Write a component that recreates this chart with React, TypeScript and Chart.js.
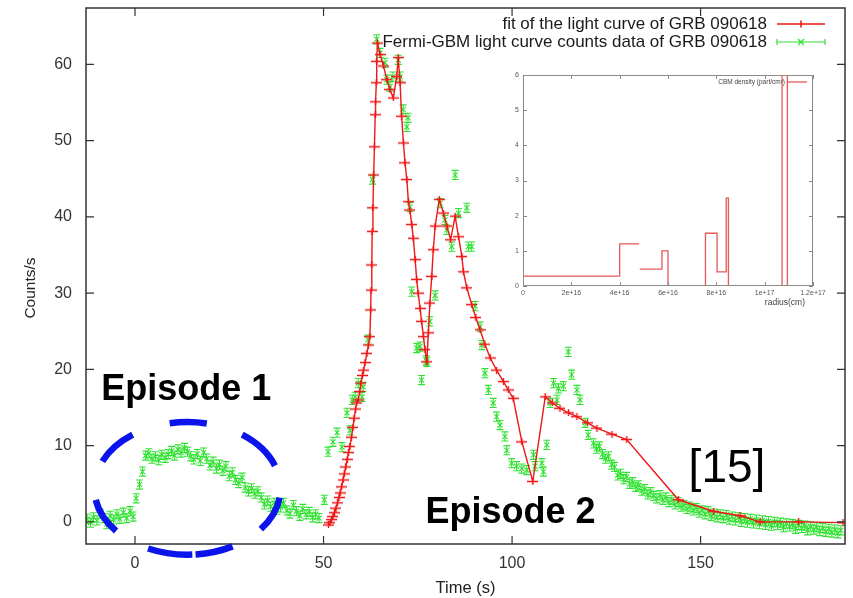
import { useEffect, useRef } from 'react';
import { Chart, registerables } from 'chart.js';

Chart.register(...registerables);

const FONT = '"Liberation Sans", Arial, Helvetica, sans-serif';
const RED = 'rgb(238, 22, 22)';
const GREEN = 'rgb(48, 226, 48)';
const BLUE = 'rgb(10, 20, 235)';

// Fermi-GBM light curve of GRB 090618 (time in s, counts/s)
const gbmTime = [
  -12.7, -11.8, -11.0, -10.1, -9.2, -8.3, -7.5, -6.6, -5.7, -4.8, -4.0, -3.1, -2.2, -1.3, -0.5,
  0.3, 1.2, 2.0, 2.8, 3.7, 4.5, 5.4, 6.3, 7.1, 8.0, 8.8, 9.7, 10.5, 11.4, 12.2, 13.1, 13.9,
  14.8, 15.6, 16.5, 17.3, 18.2, 19.0, 19.9, 20.7, 21.6, 22.4, 23.3, 24.1, 25.0, 25.8, 26.7,
  27.5, 28.4, 29.2, 30.1, 30.9, 31.8, 32.6, 33.5, 34.3, 35.2, 36.0, 36.9, 37.7, 38.6, 39.4,
  40.3, 41.1, 42.0, 42.8, 43.7, 44.5, 45.4, 46.2, 47.1, 47.9, 48.8, 50.2,
  51.2, 52.5, 53.6, 54.9, 56.2, 57.0, 57.6, 58.4, 59.2, 60.2, 60.5, 61.8, 63.0, 64.1, 65.0,
  66.3, 66.8, 67.6, 68.4, 69.8, 70.3, 71.1, 72.1, 72.4, 72.9, 73.4, 74.7, 75.6, 76.0, 77.2,
  77.4, 78.2, 79.6, 80.9, 82.2, 82.7, 84.0, 84.9, 85.8, 88.0, 88.4, 89.3, 90.2, 91.5, 92.0,
  92.8, 93.7, 95.0, 95.9, 96.8, 98.1, 98.6, 99.9, 101.2, 102.6, 103.9, 105.7, 106.1, 107.9,
  108.3, 109.2, 110.1, 111.0, 111.9, 112.3, 113.6, 114.9, 115.8, 117.2, 118.0, 119.4, 120.2,
  121.6, 122.4, 123.2, 124.0, 124.8, 125.6, 126.4, 127.2, 128.0, 128.8, 129.6, 130.4, 131.2,
  132.0, 132.8, 133.6, 134.4, 135.2, 136.0, 136.8, 137.6, 138.4, 139.2, 140.0, 140.8, 141.6,
  142.4, 143.2, 144.0, 144.8, 145.6, 146.4, 147.2, 148.0, 148.8, 149.6, 150.4, 151.2, 152.0,
  152.8, 153.6, 154.4, 155.2, 156.0, 156.8, 157.6, 158.4, 159.2, 160.0, 160.8, 161.6, 162.4,
  163.2, 164.0, 164.8, 165.6, 166.4, 167.2, 168.0, 168.8, 169.6, 170.4, 171.2, 172.0, 172.8,
  173.6, 174.4, 175.2, 176.0, 176.8, 177.6, 178.4, 179.2, 180.0, 180.8, 181.6, 182.4, 183.2,
  184.0, 184.8, 185.6, 186.4, 187.2,
];
const gbmCounts = [
  0.4, -0.1, 0.6, 0.2, 1.1, 0.5, -0.3, 0.8, 0.3, 1.0, 0.4, 1.2, 0.5, 1.4, 0.7,
  3.1, 4.9, 6.6, 8.7, 9.0, 8.3, 8.6, 8.1, 8.8, 8.4, 8.9, 9.3, 8.7, 9.5, 9.1, 9.7, 9.2,
  8.6, 8.2, 8.9, 8.0, 9.1, 8.3, 7.4, 7.9, 7.0, 7.5, 6.7, 7.3, 6.0, 6.5, 5.5,
  5.1, 5.8, 4.5, 4.0, 4.4, 3.7, 4.0, 3.2, 2.3, 2.8, 2.0, 2.5, 1.6, 1.9, 2.5,
  1.5, 1.1, 2.2, 1.4, 0.8, 1.7, 1.0, 1.3, 0.6, 1.0, 0.5, 2.9,
  9.2, 10.5, 11.7, 9.8, 14.3, 12.0, 16.0, 16.4, 18.2, 16.4, 17.7, 23.9, 44.9, 63.3, 61.5,
  60.2, 58.0, 57.1, 58.4, 60.6, 58.4, 54.1, 51.8, 53.0, 41.3, 30.2, 22.8, 23.0, 18.6, 21.2,
  21.0, 26.3, 29.7, 41.8, 39.6, 38.3, 36.1, 45.5, 40.5, 41.2, 36.1, 36.1, 28.3, 25.6, 23.2,
  19.5, 17.3, 15.6, 13.8, 12.7, 11.2, 9.4, 7.7, 7.3, 7.0, 6.8, 8.8, 7.3, 7.7,
  6.6, 10.1, 15.6, 18.2, 16.0, 17.5, 17.8, 22.3, 19.3, 17.3, 16.0, 13.0, 11.4,
  10.3, 9.6, 9.9, 8.9, 8.3, 8.6, 7.5, 7.2, 6.1, 6.3, 5.6, 5.9, 5.0,
  5.2, 4.6, 4.8, 4.1, 4.3, 3.6, 3.9, 3.4, 3.1, 3.5, 2.9, 3.2, 2.6,
  2.9, 2.3, 2.6, 2.0, 2.2, 1.7, 2.0, 1.5, 1.8, 1.2, 1.5, 1.0, 1.4,
  0.8, 1.1, 0.6, 1.0, 0.5, 0.9, 0.3, 0.7, 0.2, 0.6, 0.0, 0.5, -0.1,
  0.4, -0.2, 0.3, -0.3, 0.2, -0.4, 0.1, -0.5, 0.0, -0.4, -0.1, -0.7, -0.2,
  -0.6, -0.3, -0.9, -0.4, -0.8, -0.5, -1.1, -0.6, -1.0, -0.7, -1.2, -0.8, -1.3,
  -0.9, -1.4, -1.0, -1.5, -1.1,
];
const countErr = 0.6;

// Fitted light curve (time in s, counts/s)
const fitTime = [
  51.3, 51.7, 52.1, 52.5, 52.9, 53.3, 53.7, 54.1, 54.4, 54.8, 55.2, 55.5, 55.9, 56.3, 56.6,
  57.0, 57.4, 57.8, 58.1, 58.5, 58.8, 59.2, 59.6, 59.9, 60.3, 60.6, 61.0, 61.5, 61.9, 62.3,
  62.5, 62.6, 62.8, 62.9, 63.1, 63.3, 63.5, 63.7, 63.8, 64.0, 64.1, 64.3, 65.0, 65.9, 66.8,
  67.6, 68.5, 69.4, 69.8, 70.3, 70.7, 71.2, 71.6, 72.1, 72.5, 72.9, 73.4, 73.8, 74.3, 74.7,
  75.1, 75.6, 76.0, 76.5, 76.9, 77.4, 77.8, 78.2, 78.7, 79.1, 79.6, 80.7, 81.8, 82.7, 83.7,
  84.9, 85.8, 86.7, 87.1, 88.0, 89.3, 90.4, 91.5, 92.8, 94.2, 95.9, 97.7, 99.0, 100.3, 102.6,
  105.5, 108.8, 110.7, 112.7, 115.0, 117.2, 120.0, 122.5, 126.5, 130.4, 144.1, 153.4, 160.5,
  165.8, 176.0, 187.8,
];
const fitCounts = [
  -0.4, -0.1, 0.3, 0.7, 1.2, 1.8, 2.5, 3.2, 3.8, 4.6, 5.5, 6.3, 7.2, 8.2, 9.1,
  9.9, 11.1, 12.4, 13.6, 14.8, 15.6, 16.0, 17.1, 18.2, 19.2, 19.9, 20.9, 22.1, 23.2, 24.3,
  27.8, 30.4, 33.7, 38.1, 41.2, 45.5, 49.2, 53.4, 55.1, 57.6, 60.4, 62.8, 61.3, 59.8, 58.0,
  56.7, 55.6, 58.4, 60.9, 57.6, 53.2, 49.7, 47.1, 44.9, 42.0, 40.9, 39.0, 37.2, 34.4, 31.8,
  30.0, 28.0, 26.3, 24.3, 22.6, 21.0, 24.8, 28.7, 32.2, 35.7, 38.8, 42.3, 40.5, 38.8, 37.0,
  40.1, 37.4, 34.8, 32.8, 30.7, 28.5, 26.8, 25.2, 23.3, 21.5, 19.9, 18.4, 17.3, 16.2, 10.5,
  5.3, 16.4, 15.6, 14.9, 14.3, 13.8, 13.0, 12.3, 11.5, 10.8, 2.9, 1.4, 0.8,
  0.0, 0.0, -0.1,
];

const timeTicks = [0, 50, 100, 150];
const countTicks = [0, 10, 20, 30, 40, 50, 60];

// CBM density profile (radius in cm, density in part/cm^3); null breaks the line
const cbmRadius = [
  0, 4.0e16, 4.0e16, 4.8e16, 4.8e16, 4.83e16, 5.75e16, 5.75e16, 6.0e16, 6.0e16, 7.55e16,
  7.55e16, 8.03e16, 8.03e16, 8.41e16, 8.41e16, 8.5e16, 8.5e16, 1.072e17, 1.072e17, 1.094e17,
  1.094e17,
];
const cbmDensity = [
  0.28, 0.28, 1.2, 1.2, null, 0.48, 0.48, 1.0, 1.0, 0, 0,
  1.5, 1.5, 0.4, 0.4, 2.5, 2.5, 0, 0, 7, 7,
  0,
];
const radiusTicks = [0, 2e16, 4e16, 6e16, 8e16, 1e17, 1.2e17];
const radiusTickLabels = ['0', '2e+16', '4e+16', '6e+16', '8e+16', '1e+17', '1.2e+17'];
const densityTicks = [0, 1, 2, 3, 4, 5, 6];

// Dashed ring around the first episode: centre / radii in data units, dash arcs in degrees
const episodeRing = { t: 13.9, c: 4.4, rt: 24.7, rc: 8.7 };
const ringDashes = [
  [8, 38], [61, 85], [87, 115], [140, 170], [204, 234], [259, 282], [306, 340],
];

function fitMarker(): HTMLCanvasElement {
  const c = document.createElement('canvas');
  c.width = 11;
  c.height = 7;
  const g = c.getContext('2d')!;
  g.strokeStyle = RED;
  g.lineWidth = 1.4;
  g.beginPath();
  g.moveTo(0, 3.5);
  g.lineTo(11, 3.5);
  g.moveTo(5.5, 0);
  g.lineTo(5.5, 7);
  g.stroke();
  return c;
}

function drawCross(ctx: CanvasRenderingContext2D, x: number, y: number, r: number) {
  ctx.moveTo(x - r, y - r);
  ctx.lineTo(x + r, y + r);
  ctx.moveTo(x - r, y + r);
  ctx.lineTo(x + r, y - r);
}

// scales keep exactly the size given in afterFit, with no extra label margins
function fixBox(size: 'width' | 'height', value: number) {
  return (s: any) => {
    s[size] = value;
    s.paddingTop = 0;
    s.paddingBottom = 0;
    s.paddingLeft = 0;
    s.paddingRight = 0;
  };
}

const gbmErrorBars = {
  id: 'gbmErrorBars',
  afterDatasetDraw(chart: any, args: any) {
    if (args.index !== 1) return;
    const { ctx, chartArea: a, scales } = chart;
    const x = scales.x;
    const y = scales.y;
    ctx.save();
    ctx.beginPath();
    ctx.rect(a.left, a.top, a.right - a.left, a.bottom - a.top);
    ctx.clip();
    ctx.strokeStyle = GREEN;
    ctx.lineWidth = 1.1;
    ctx.beginPath();
    gbmTime.forEach((t, i) => {
      const px = x.getPixelForValue(t);
      const lo = y.getPixelForValue(gbmCounts[i] - countErr);
      const hi = y.getPixelForValue(gbmCounts[i] + countErr);
      ctx.moveTo(px, lo);
      ctx.lineTo(px, hi);
      ctx.moveTo(px - 3.5, lo);
      ctx.lineTo(px + 3.5, lo);
      ctx.moveTo(px - 3.5, hi);
      ctx.lineTo(px + 3.5, hi);
    });
    ctx.stroke();
    ctx.restore();
  },
};

const mainDecor = {
  id: 'mainDecor',
  afterDraw(chart: any) {
    const { ctx, chartArea: a, scales } = chart;
    const x = scales.x;
    const y = scales.y;
    ctx.save();

    // frame with inward ticks on all four sides
    ctx.strokeStyle = '#333';
    ctx.lineWidth = 1.5;
    ctx.strokeRect(a.left, a.top, a.right - a.left, a.bottom - a.top);
    ctx.lineWidth = 1.2;
    ctx.beginPath();
    timeTicks.forEach((v) => {
      const px = x.getPixelForValue(v);
      ctx.moveTo(px, a.bottom);
      ctx.lineTo(px, a.bottom - 8);
      ctx.moveTo(px, a.top);
      ctx.lineTo(px, a.top + 8);
    });
    countTicks.forEach((v) => {
      const py = y.getPixelForValue(v);
      ctx.moveTo(a.left, py);
      ctx.lineTo(a.left + 8, py);
      ctx.moveTo(a.right, py);
      ctx.lineTo(a.right - 8, py);
    });
    ctx.stroke();

    // axis titles
    ctx.fillStyle = '#222';
    ctx.font = `15.5px ${FONT}`;
    ctx.textAlign = 'center';
    ctx.textBaseline = 'middle';
    ctx.save();
    ctx.translate(31, 288);
    ctx.rotate(-Math.PI / 2);
    ctx.fillText('Counts/s', 0, 0);
    ctx.restore();
    ctx.font = `16.5px ${FONT}`;
    ctx.fillText('Time (s)', (a.left + a.right) / 2, 588);

    // key
    const keyRight = a.right - 78;
    const s0 = a.right - 68;
    const s1 = a.right - 20;
    const sm = (s0 + s1) / 2;
    const k1 = a.top + 16;
    const k2 = a.top + 34;
    ctx.font = `17px ${FONT}`;
    ctx.textAlign = 'right';
    ctx.fillStyle = '#1a1a1a';
    ctx.fillText('fit of the light curve of GRB 090618', keyRight, k1);
    ctx.fillText('Fermi-GBM light curve counts data of GRB 090618', keyRight, k2);
    ctx.strokeStyle = RED;
    ctx.lineWidth = 1.5;
    ctx.beginPath();
    ctx.moveTo(s0, k1);
    ctx.lineTo(s1, k1);
    ctx.moveTo(sm, k1 - 3.5);
    ctx.lineTo(sm, k1 + 3.5);
    ctx.moveTo(sm - 5, k1);
    ctx.lineTo(sm + 5, k1);
    ctx.stroke();
    ctx.strokeStyle = GREEN;
    ctx.lineWidth = 1.2;
    ctx.beginPath();
    ctx.moveTo(s0, k2);
    ctx.lineTo(s1, k2);
    ctx.moveTo(s0, k2 - 3);
    ctx.lineTo(s0, k2 + 3);
    ctx.moveTo(s1, k2 - 3);
    ctx.lineTo(s1, k2 + 3);
    drawCross(ctx, sm, k2, 3);
    ctx.stroke();

    // dashed ring around episode 1
    const cx = x.getPixelForValue(episodeRing.t);
    const cy = y.getPixelForValue(episodeRing.c);
    const rx = x.getPixelForValue(episodeRing.t + episodeRing.rt) - cx;
    const ry = cy - y.getPixelForValue(episodeRing.c + episodeRing.rc);
    ctx.strokeStyle = BLUE;
    ctx.lineWidth = 6.5;
    ctx.lineCap = 'butt';
    ringDashes.forEach(([d0, d1]) => {
      ctx.beginPath();
      ctx.ellipse(cx, cy, rx, ry, 0, (d0 * Math.PI) / 180, (d1 * Math.PI) / 180);
      ctx.stroke();
    });

    // annotations
    ctx.fillStyle = '#000';
    ctx.textAlign = 'center';
    ctx.textBaseline = 'alphabetic';
    ctx.font = `bold 36px ${FONT}`;
    ctx.fillText('Episode 1', x.getPixelForValue(13.6), y.getPixelForValue(16.0));
    ctx.fillText('Episode 2', x.getPixelForValue(99.6), y.getPixelForValue(-0.1));
    ctx.font = `46px ${FONT}`;
    ctx.fillText('[15]', x.getPixelForValue(157.0), y.getPixelForValue(5.2));
    ctx.restore();
  },
};

const insetDecor = {
  id: 'insetDecor',
  beforeDraw(chart: any) {
    const { ctx, width, height } = chart;
    ctx.save();
    ctx.fillStyle = '#fff';
    ctx.fillRect(0, 0, width, height);
    ctx.restore();
  },
  afterDraw(chart: any) {
    const { ctx, chartArea: a, scales } = chart;
    const x = scales.x;
    const y = scales.y;
    ctx.save();
    ctx.strokeStyle = '#8a8a8a';
    ctx.lineWidth = 1;
    ctx.strokeRect(a.left + 0.5, a.top + 0.5, a.right - a.left - 1, a.bottom - a.top - 1);
    ctx.beginPath();
    radiusTicks.forEach((v) => {
      const px = Math.round(x.getPixelForValue(v)) + 0.5;
      ctx.moveTo(px, a.bottom);
      ctx.lineTo(px, a.bottom - 4);
      ctx.moveTo(px, a.top);
      ctx.lineTo(px, a.top + 4);
    });
    densityTicks.forEach((v) => {
      const py = Math.round(y.getPixelForValue(v)) + 0.5;
      ctx.moveTo(a.left, py);
      ctx.lineTo(a.left + 4, py);
      ctx.moveTo(a.right, py);
      ctx.lineTo(a.right - 4, py);
    });
    ctx.stroke();

    ctx.fillStyle = '#444';
    ctx.font = `8.5px ${FONT}`;
    ctx.textAlign = 'right';
    ctx.textBaseline = 'middle';
    ctx.fillText('radius(cm)', a.right - 8, a.bottom + 17);

    ctx.font = `6.5px ${FONT}`;
    ctx.fillText('CBM density (part/cm\u00B3)', a.right - 28, a.top + 7);
    ctx.strokeStyle = 'rgba(228, 70, 70, 0.9)';
    ctx.lineWidth = 1.3;
    ctx.beginPath();
    ctx.moveTo(a.right - 25, a.top + 7);
    ctx.lineTo(a.right - 6, a.top + 7);
    ctx.stroke();
    ctx.restore();
  },
};

export default function App() {
  const mainRef = useRef<HTMLCanvasElement>(null);
  const insetRef = useRef<HTMLCanvasElement>(null);

  useEffect(() => {
    document.body.style.margin = '0';
    const marker = fitMarker();

    const main = new Chart(mainRef.current!, {
      type: 'scatter',
      data: {
        datasets: [
          {
            label: 'fit of the light curve of GRB 090618',
            data: fitTime.map((t, i) => ({ x: t, y: fitCounts[i] })),
            showLine: true,
            borderColor: RED,
            borderWidth: 1.4,
            pointStyle: marker,
            pointRadius: 3,
            order: 0,
          },
          {
            label: 'Fermi-GBM light curve counts data of GRB 090618',
            data: gbmTime.map((t, i) => ({ x: t, y: gbmCounts[i] })),
            showLine: false,
            borderColor: GREEN,
            backgroundColor: GREEN,
            borderWidth: 1.1,
            pointStyle: 'crossRot',
            pointRadius: 3.6,
            order: 1,
          },
        ],
      },
      options: {
        animation: false,
        responsive: false,
        devicePixelRatio: 1,
        layout: { padding: { top: 8, right: 8, left: 0, bottom: 0 } },
        plugins: { legend: { display: false }, tooltip: { enabled: false } },
        scales: {
          x: {
            type: 'linear',
            min: -13,
            max: 188.3,
            afterBuildTicks: (s: any) => {
              s.ticks = timeTicks.map((v) => ({ value: v }));
            },
            afterFit: fixBox('height', 54),
            grid: { display: false, drawTicks: false },
            border: { display: false },
            ticks: {
              color: '#333',
              font: { family: FONT, size: 16 },
              padding: 10,
              maxRotation: 0,
              autoSkip: false,
            },
          },
          y: {
            type: 'linear',
            min: -2.9,
            max: 67.4,
            afterBuildTicks: (s: any) => {
              s.ticks = countTicks.map((v) => ({ value: v }));
            },
            afterFit: fixBox('width', 86),
            grid: { display: false, drawTicks: false },
            border: { display: false },
            ticks: {
              color: '#333',
              font: { family: FONT, size: 16 },
              padding: 14,
              autoSkip: false,
            },
          },
        },
      },
      plugins: [gbmErrorBars, mainDecor],
    });

    const inset = new Chart(insetRef.current!, {
      type: 'scatter',
      data: {
        datasets: [
          {
            label: 'CBM density (part/cm\u00B3)',
            data: cbmRadius.map((r, i) => ({ x: r, y: cbmDensity[i] })),
            showLine: true,
            spanGaps: false,
            borderColor: 'rgba(228, 70, 70, 0.9)',
            borderWidth: 1.3,
            pointRadius: 0,
          },
        ],
      },
      options: {
        animation: false,
        responsive: false,
        devicePixelRatio: 1,
        layout: { padding: { top: 9, right: 22, left: 0, bottom: 0 } },
        plugins: { legend: { display: false }, tooltip: { enabled: false } },
        scales: {
          x: {
            type: 'linear',
            min: 0,
            max: 1.2e17,
            afterBuildTicks: (s: any) => {
              s.ticks = radiusTicks.map((v) => ({ value: v }));
            },
            afterFit: fixBox('height', 26),
            grid: { display: false, drawTicks: false },
            border: { display: false },
            ticks: {
              color: '#555',
              font: { family: FONT, size: 7 },
              padding: 3,
              maxRotation: 0,
              autoSkip: false,
              callback: (_v: any, i: number) => radiusTickLabels[i],
            },
          },
          y: {
            type: 'linear',
            min: 0,
            max: 6,
            afterBuildTicks: (s: any) => {
              s.ticks = densityTicks.map((v) => ({ value: v }));
            },
            afterFit: fixBox('width', 23),
            grid: { display: false, drawTicks: false },
            border: { display: false },
            ticks: {
              color: '#555',
              font: { family: FONT, size: 7 },
              padding: 4,
              autoSkip: false,
            },
          },
        },
      },
      plugins: [insetDecor],
    });

    return () => {
      main.destroy();
      inset.destroy();
    };
  }, []);

  return (
    <div style={{ position: 'fixed', left: 0, top: 0, width: 853, height: 598, background: '#fff' }}>
      <canvas
        ref={mainRef}
        width={853}
        height={598}
        style={{ position: 'absolute', left: 0, top: 0, width: 853, height: 598 }}
      />
      <canvas
        ref={insetRef}
        width={335}
        height={246}
        style={{ position: 'absolute', left: 500, top: 66, width: 335, height: 246 }}
      />
    </div>
  );
}
